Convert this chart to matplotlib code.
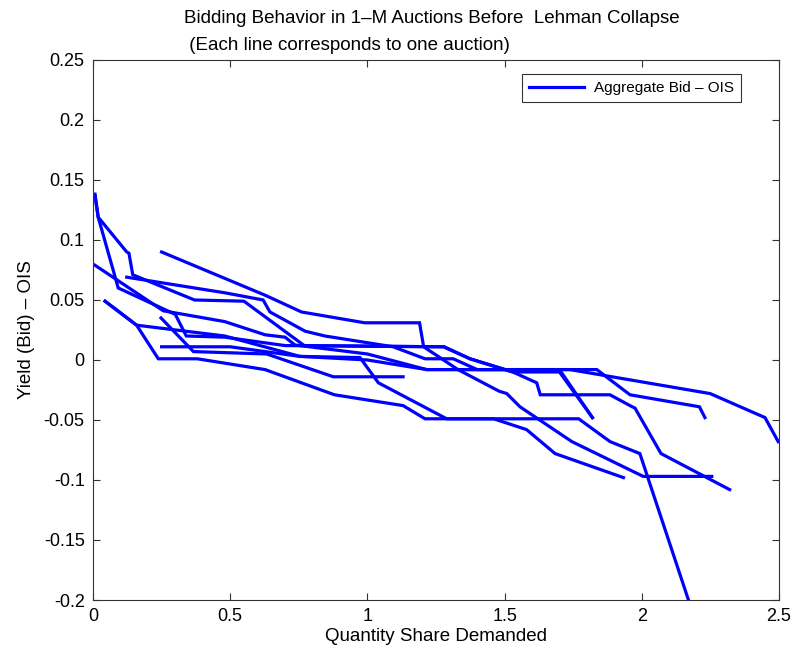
import matplotlib
matplotlib.use("Agg")
import matplotlib.pyplot as plt

plt.rcParams['font.family'] = ['Liberation Sans', 'DejaVu Sans']

# Each auction: (quantity share, yield - OIS)
auction1_x = [0.007, 0.019, 0.092, 0.30, 0.34, 0.48, 0.70, 1.277, 1.374, 1.53, 1.70, 1.82]
auction1_y = [0.138, 0.119, 0.060, 0.038, 0.020, 0.019, 0.012, 0.011, 0.001, -0.010, -0.010, -0.048]

auction2_x = [0.007, 0.019, 0.123, 0.131, 0.145, 0.37, 0.55, 0.77, 1.28, 1.374, 1.53, 1.617, 1.63, 1.884, 1.965, 1.975, 2.07, 2.32]
auction2_y = [0.138, 0.119, 0.090, 0.089, 0.071, 0.050, 0.049, 0.012, 0.011, 0.001, -0.010, -0.019, -0.029, -0.029, -0.039, -0.040, -0.078, -0.108]

auction3_x = [0.25, 0.627, 0.76, 0.99, 1.19, 1.205, 1.33, 1.48, 1.508, 1.556, 1.745, 2.005, 2.255]
auction3_y = [0.090, 0.054, 0.040, 0.031, 0.031, 0.011, -0.008, -0.026, -0.028, -0.039, -0.068, -0.097, -0.097]

auction4_x = [0.123, 0.48, 0.62, 0.645, 0.773, 0.845, 1.094, 1.21, 1.313, 1.40, 1.738, 2.249, 2.449, 2.497]
auction4_y = [0.069, 0.056, 0.050, 0.040, 0.024, 0.020, 0.011, 0.001, 0.001, -0.008, -0.008, -0.028, -0.048, -0.068]

auction5_x = [0.007, 0.256, 0.48, 0.627, 0.70, 0.736, 1.0, 1.216, 1.70, 1.82]
auction5_y = [0.079, 0.041, 0.032, 0.021, 0.019, 0.0125, 0.005, -0.008, -0.008, -0.048]

auction6_x = [0.248, 0.366, 0.633, 0.876, 1.13]
auction6_y = [0.035, 0.007, 0.005, -0.014, -0.014]

auction7_x = [0.25, 0.50, 0.754, 1.0, 1.216, 1.836, 1.957, 2.21, 2.23]
auction7_y = [0.011, 0.011, 0.003, 0.000, -0.008, -0.008, -0.029, -0.039, -0.048]

auction8_x = [0.044, 0.159, 0.238, 0.38, 0.627, 0.88, 1.13, 1.21, 1.46, 1.58, 1.684, 1.933]
auction8_y = [0.049, 0.029, 0.001, 0.001, -0.008, -0.029, -0.038, -0.049, -0.049, -0.058, -0.078, -0.098]

auction9_x = [0.044, 0.159, 0.48, 0.754, 0.973, 1.04, 1.289, 1.77, 1.884, 1.993, 2.17]
auction9_y = [0.049, 0.029, 0.020, 0.003, 0.002, -0.019, -0.049, -0.049, -0.068, -0.078, -0.200]

auctions = [
    (auction1_x, auction1_y), (auction2_x, auction2_y), (auction3_x, auction3_y),
    (auction4_x, auction4_y), (auction5_x, auction5_y), (auction6_x, auction6_y),
    (auction7_x, auction7_y), (auction8_x, auction8_y), (auction9_x, auction9_y),
]

x_ticks = [0, 0.5, 1, 1.5, 2, 2.5]
x_tick_labels = ['0', '0.5', '1', '1.5', '2', '2.5']
y_ticks = [-0.2, -0.15, -0.1, -0.05, 0, 0.05, 0.1, 0.15, 0.2, 0.25]
y_tick_labels = ['-0.2', '-0.15', '-0.1', '-0.05', '0', '0.05', '0.1', '0.15', '0.2', '0.25']

title_line1 = 'Bidding Behavior in 1–M Auctions Before  Lehman Collapse'
title_line2 = ' (Each line corresponds to one auction)'

fig = plt.figure(figsize=(7.92, 6.49), dpi=100)
ax = fig.add_axes([0.1174, 0.0755, 0.8662, 0.8321])

for i, (xs, ys) in enumerate(auctions):
    ax.plot(xs, ys, color=(0, 0, 1), linewidth=2.3,
            label='Aggregate Bid – OIS' if i == 0 else None,
            solid_joinstyle='miter')

ax.set_xlim(0, 2.5)
ax.set_ylim(-0.2, 0.25)
ax.set_xticks(x_ticks)
ax.set_xticklabels(x_tick_labels)
ax.set_yticks(y_ticks)
ax.set_yticklabels(y_tick_labels)
ax.tick_params(direction='in', top=True, right=True, labelsize=13, length=5,
               width=0.8, color='#333333', pad=6)
for s in ax.spines.values():
    s.set_linewidth(0.8)
    s.set_color('#333333')

ax.set_xlabel('Quantity Share Demanded', fontsize=13.5, labelpad=2)
ax.set_ylabel('Yield (Bid) – OIS', fontsize=13.5, labelpad=6)

fig.text(184 / 792, 1 - 23 / 649, title_line1, fontsize=13.5, ha='left', va='baseline')
fig.text(184 / 792, 1 - 50 / 649, title_line2, fontsize=13.5, ha='left', va='baseline')

leg = ax.legend(loc='upper right', bbox_to_anchor=(0.945, 0.974), borderaxespad=0,
                fontsize=11, frameon=True, fancybox=False, handlelength=3.6,
                handletextpad=0.7, borderpad=0.45)
leg.get_frame().set_edgecolor('black')
leg.get_frame().set_linewidth(0.8)

fig.savefig('out.png', dpi=100)
